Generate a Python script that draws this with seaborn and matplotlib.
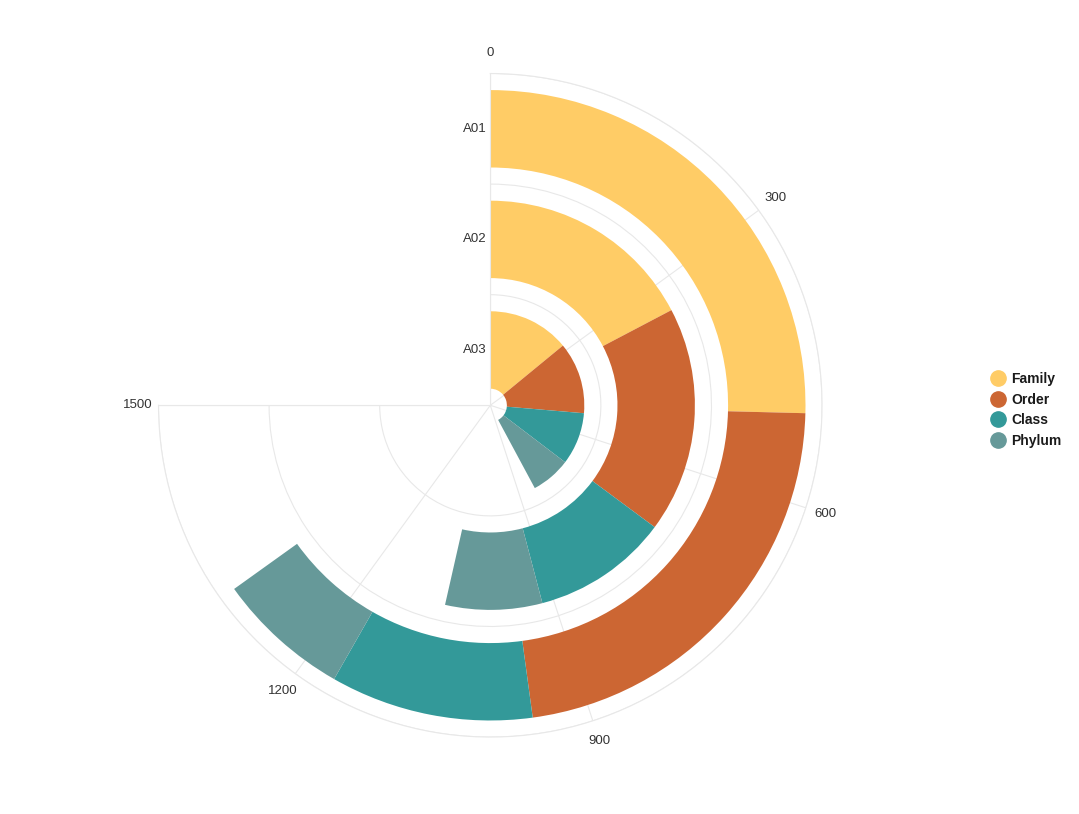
import numpy as np
import matplotlib.pyplot as plt
import seaborn as sns
from matplotlib.lines import Line2D

# rings, inner to outer
groups = ['A03', 'A02', 'A01']
levels = ['Family', 'Order', 'Class', 'Phylum']
family = [281, 346, 508]
order = [246, 357, 449]
class_ = [180, 215, 208]
phylum = [136, 153, 137]
colors = ['#FFCC66', '#CC6633', '#339999', '#669999']
theta_ticks = [0, 300, 600, 900, 1200, 1500]
full_turn = 2000  # value that would close the circle (1500 sits at 270 deg)

sns.set_theme(style='white')
plt.rcParams['font.family'] = ['Liberation Sans', 'DejaVu Sans']

fig = plt.figure(figsize=(10.79, 8.14), dpi=100)
cx, cy, rad = 493.5, 408.5, 335
ax = fig.add_axes([(cx - rad) / 1079, (814 - cy - rad) / 814, 2 * rad / 1079, 2 * rad / 814],
                  projection='polar')
ax.set_theta_zero_location('N')
ax.set_theta_direction(-1)
ax.set_thetamin(0)
ax.set_thetamax(270)

scale = 2 * np.pi / full_turn
r_pos = np.arange(len(groups)) + 0.5
values = np.array([family, order, class_, phylum], dtype=float)
lefts = np.vstack([np.zeros(len(groups)), np.cumsum(values, axis=0)[:-1]])

for i, lvl in enumerate(levels):
    ax.barh(r_pos, values[i] * scale, height=0.7, left=lefts[i] * scale,
            color=colors[i], edgecolor='none', label=lvl, zorder=2)

ax.set_ylim(0, 3)
ax.set_yticks([1, 2, 3])
ax.set_yticklabels([])
for r, g in zip(r_pos, groups):
    ax.annotate(g, xy=(0, r), xytext=(-2.5, 0), textcoords='offset points',
                ha='right', va='center', fontsize=9.5, color='#333333')

ax.set_xticks(np.array(theta_ticks) * scale)
ax.set_xticklabels([str(t) for t in theta_ticks])
ax.tick_params(axis='x', pad=2, labelsize=9.5, colors='#333333')
ax.grid(True, color='#e8e8e8', lw=0.8)
ax.set_axisbelow(True)
for sp in ax.spines.values():
    sp.set_color('#e8e8e8')
    sp.set_linewidth(0.8)

handles = [Line2D([], [], marker='o', ls='', ms=11, color=c) for c in colors]
fig.legend(handles, levels, loc='center left', bbox_to_anchor=(977 / 1079, 1 - 410 / 814),
           frameon=False, prop={'weight': 'bold', 'size': 10}, labelcolor='#1a1a1a',
           handletextpad=0.35, labelspacing=0.47, handlelength=1.2)

fig.savefig('out.png', dpi=100)
